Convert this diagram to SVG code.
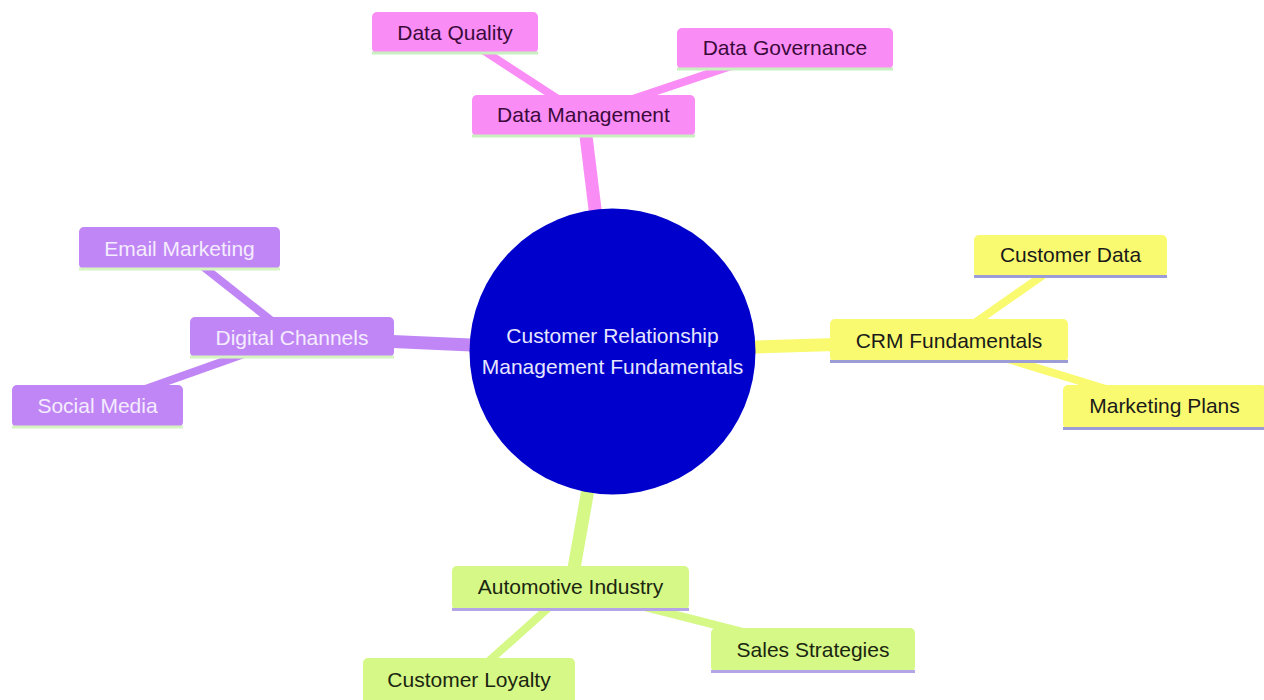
<svg xmlns="http://www.w3.org/2000/svg" width="1264" height="700" viewBox="0 0 1264 700">
<style>
text{font-family:"Liberation Sans",Arial,sans-serif;font-size:21px;text-anchor:middle}
.e{fill:none;stroke-linecap:butt}
.d1{stroke-width:13}
.d2{stroke-width:8}
.pink .b{fill:#f98df5}.pink text{fill:#3b0a3b}.pink .l{stroke:#c9efc0}
.purp .b{fill:#c186f5}.purp text{fill:#f4ecff}.purp .l{stroke:#d6f3c2}
.yel .b{fill:#fafa70}.yel text{fill:#1a1a1a}.yel .l{stroke:#9c9cd6}
.grn .b{fill:#d5f887}.grn text{fill:#1b2610}.grn .l{stroke:#b4a6e6}
.l{stroke-width:3;fill:none}
.ep{stroke:#f98df5}.eu{stroke:#c186f5}.ey{stroke:#fafa70}.eg{stroke:#d5f887}
</style>
<rect width="1264" height="700" fill="#ffffff"/>
<g id="connectors">
<line class="e d1 ep" x1="612.5" y1="351.5" x2="583.5" y2="115.5"/>
<line class="e d1 eu" x1="612.5" y1="351.5" x2="292" y2="337"/>
<line class="e d1 ey" x1="612.5" y1="351.5" x2="949" y2="341"/>
<line class="e d1 eg" x1="612.5" y1="351.5" x2="570.5" y2="588"/>
<line class="e d2 ep" x1="583.5" y1="115.5" x2="455" y2="32"/>
<line class="e d2 ep" x1="583.5" y1="115.5" x2="785" y2="48"/>
<line class="e d2 eu" x1="292" y1="337" x2="179.5" y2="248"/>
<line class="e d2 eu" x1="292" y1="337" x2="97.5" y2="406"/>
<line class="e d2 ey" x1="949" y1="341" x2="1070.5" y2="256"/>
<line class="e d2 ey" x1="949" y1="341" x2="1164.5" y2="407"/>
<line class="e d2 eg" x1="570.5" y1="588" x2="469" y2="679"/>
<line class="e d2 eg" x1="570.5" y1="588" x2="813" y2="650"/>
</g>
<g id="root">
<circle cx="612.5" cy="351.5" r="143" fill="#0000cd"/>
<text x="612.5" y="343" fill="#e6e6ff">Customer Relationship</text>
<text x="612.5" y="374" fill="#e6e6ff">Management Fundamentals</text>
</g>
<g id="data-management" class="pink">
<rect class="b" x="472" y="95" width="223" height="41" rx="5"/>
<line class="l" x1="472" y1="136" x2="695" y2="136"/>
<text x="583.5" y="122">Data Management</text>
</g>
<g id="data-quality" class="pink">
<rect class="b" x="372" y="12" width="166" height="41" rx="5"/>
<line class="l" x1="372" y1="53" x2="538" y2="53"/>
<text x="455" y="40">Data Quality</text>
</g>
<g id="data-governance" class="pink">
<rect class="b" x="677" y="28" width="216" height="41" rx="5"/>
<line class="l" x1="677" y1="69" x2="893" y2="69"/>
<text x="785" y="55">Data Governance</text>
</g>
<g id="digital-channels" class="purp">
<rect class="b" x="190" y="317" width="204" height="40" rx="5"/>
<line class="l" x1="190" y1="357" x2="394" y2="357"/>
<text x="292" y="345">Digital Channels</text>
</g>
<g id="email-marketing" class="purp">
<rect class="b" x="79" y="227" width="201" height="42" rx="5"/>
<line class="l" x1="79" y1="269" x2="280" y2="269"/>
<text x="179.5" y="256">Email Marketing</text>
</g>
<g id="social-media" class="purp">
<rect class="b" x="12" y="385" width="171" height="42" rx="5"/>
<line class="l" x1="12" y1="427" x2="183" y2="427"/>
<text x="97.5" y="413">Social Media</text>
</g>
<g id="crm-fundamentals" class="yel">
<rect class="b" x="830" y="319" width="238" height="43" rx="5"/>
<line class="l" x1="830" y1="361.5" x2="1068" y2="361.5"/>
<text x="949" y="348">CRM Fundamentals</text>
</g>
<g id="customer-data" class="yel">
<rect class="b" x="974" y="235" width="193" height="42" rx="5"/>
<line class="l" x1="974" y1="276.5" x2="1167" y2="276.5"/>
<text x="1070.5" y="262">Customer Data</text>
</g>
<g id="marketing-plans" class="yel">
<rect class="b" x="1063" y="385" width="203" height="44" rx="5"/>
<line class="l" x1="1063" y1="428.5" x2="1266" y2="428.5"/>
<text x="1164.5" y="413">Marketing Plans</text>
</g>
<g id="automotive-industry" class="grn">
<rect class="b" x="452" y="566" width="237" height="44" rx="5"/>
<line class="l" x1="452" y1="609.5" x2="689" y2="609.5"/>
<text x="570.5" y="594">Automotive Industry</text>
</g>
<g id="customer-loyalty" class="grn">
<rect class="b" x="363" y="658" width="212" height="46" rx="5"/>
<text x="469" y="687">Customer Loyalty</text>
</g>
<g id="sales-strategies" class="grn">
<rect class="b" x="711" y="628" width="204" height="44" rx="5"/>
<line class="l" x1="711" y1="671.5" x2="915" y2="671.5"/>
<text x="813" y="657">Sales Strategies</text>
</g>
</svg>
